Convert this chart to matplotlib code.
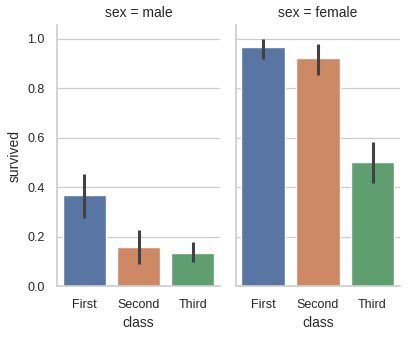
import matplotlib
matplotlib.use("Agg")
import matplotlib.pyplot as plt
import seaborn as sns
import numpy as np

sns.set_theme(style="whitegrid")
plt.rcParams['font.family'] = ['Liberation Sans', 'DejaVu Sans']

classes = ["First", "Second", "Third"]
sexes = ["male", "female"]
male_surv = [0.3689, 0.1574, 0.1354]
female_surv = [0.9681, 0.9211, 0.5000]
male_ci_low = [0.275, 0.088, 0.097]
male_ci_high = [0.455, 0.225, 0.177]
female_ci_low = [0.920, 0.852, 0.415]
female_ci_high = [1.000, 0.978, 0.583]

palette = [sns.desaturate(c, 0.75) for c in sns.color_palette("deep", 3)]

fig = plt.figure(figsize=(4.08, 3.37), dpi=100)
ax1 = fig.add_axes([0.140, 0.151, 0.399, 0.775])
ax2 = fig.add_axes([0.578, 0.151, 0.402, 0.775], sharey=ax1)

data = [(ax1, "male", male_surv, male_ci_low, male_ci_high),
        (ax2, "female", female_surv, female_ci_low, female_ci_high)]
for ax, sex, vals, lo, hi in data:
    x = np.arange(len(classes))
    ax.bar(x, vals, width=0.8, color=palette, zorder=2)
    for xi, l, h in zip(x, lo, hi):
        ax.plot([xi, xi], [l, h], color=".26", lw=2.2, solid_capstyle="butt", zorder=3)
    ax.set_xticks(x)
    ax.set_xticklabels(classes, fontsize=9)
    ax.set_xlim(-0.5, 2.5)
    ax.set_title(f"sex = {sex}", fontsize=10)
    ax.set_xlabel("class", fontsize=10)
    ax.grid(axis="x", visible=False)
    ax.grid(axis="y", color=".8", lw=0.9)
    for s in ["top", "right"]:
        ax.spines[s].set_visible(False)
    ax.spines["left"].set_color(".8")
    ax.spines["bottom"].set_color(".8")
    ax.spines["left"].set_linewidth(1.2)
    ax.spines["bottom"].set_linewidth(1.2)
    ax.tick_params(axis="both", labelsize=9, pad=3)

ax1.set_ylim(0, 1.056)
ax1.set_yticks([0.0, 0.2, 0.4, 0.6, 0.8, 1.0])
ax1.set_ylabel("survived", fontsize=10)
plt.setp(ax2.get_yticklabels(), visible=False)

fig.savefig("out.png", dpi=100)
